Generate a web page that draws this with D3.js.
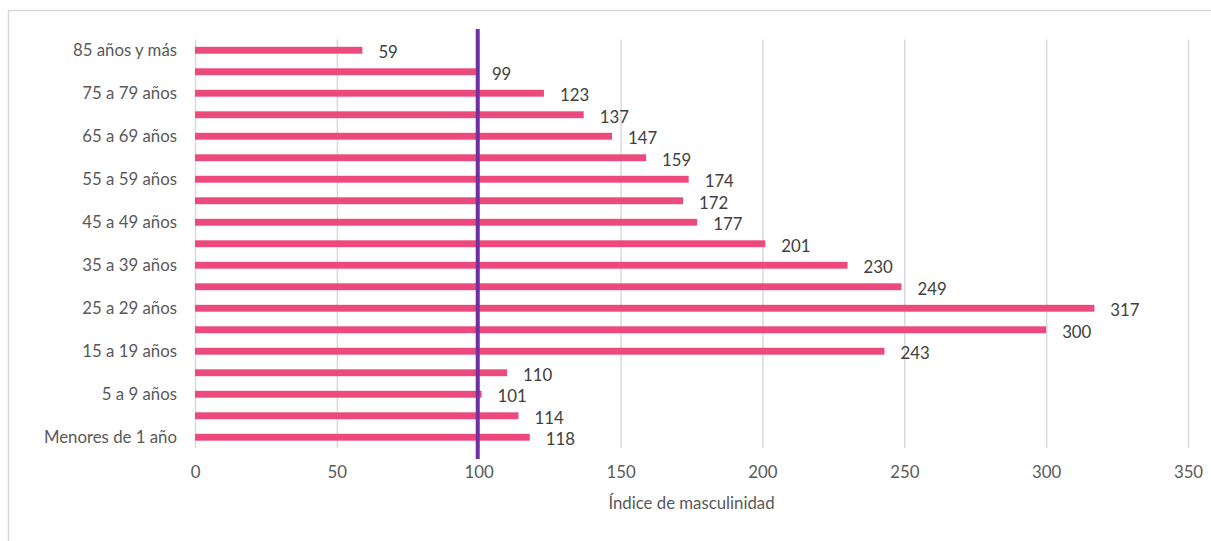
<!DOCTYPE html>
<html>
<head>
<meta charset="utf-8">
<script src="https://cdn.jsdelivr.net/npm/d3@7"></script>
<style>
    body { margin: 0; background: #fff; }
    svg { display: block; font-family: Lato, "Open Sans", sans-serif; }
</style>
</head>
<body>
<svg id="chart" width="1211" height="541"></svg>
<script>
// grupos de edad, de menor a mayor
var grupos = ['Menores de 1 año', '1 a 4 años', '5 a 9 años', '10 a 14 años', '15 a 19 años',
    '20 a 24 años', '25 a 29 años', '30 a 34 años', '35 a 39 años', '40 a 44 años',
    '45 a 49 años', '50 a 54 años', '55 a 59 años', '60 a 64 años', '65 a 69 años',
    '70 a 74 años', '75 a 79 años', '80 a 84 años', '85 años y más']
var indice = [118, 114, 101, 110, 243, 300, 317, 249, 230, 201, 177, 172, 174, 159, 147, 137, 123, 99, 59]
var xTicks = [0, 50, 100, 150, 200, 250, 300, 350]
var referencia = 100
var tituloX = 'Índice de masculinidad'

var svg = d3.select('#chart')
var fs = 16.8

var conf = {
    left: 195,
    right: 1188,
    top: 39.5,
    bottom: 448
}

// marco del gráfico (solo arriba e izquierda visibles)
svg.append('path')
    .attr('d', 'M8.5,541 L8.5,10.5 L1211,10.5')
    .attr('fill', 'none')
    .attr('stroke', '#d9d9d9')
    .attr('stroke-width', 1.5)

var x = d3.scaleLinear().domain([0, 350]).range([conf.left, conf.right])
var y = d3.scaleBand()
    .domain(grupos.slice().reverse())
    .range([conf.top, conf.bottom])
    .paddingInner(0.68)
    .paddingOuter(0.34)

// rejilla vertical + etiquetas del eje
var xAxis = svg.append('g')
    .attr('transform', 'translate(0,' + conf.bottom + ')')
    .call(d3.axisBottom(x).tickValues(xTicks).tickSize(-(conf.bottom - conf.top)).tickPadding(18))
xAxis.select('.domain').remove()
xAxis.selectAll('line').attr('stroke', '#d9d9d9').attr('stroke-width', 1.5)
xAxis.selectAll('text')
    .attr('fill', '#595959')
    .attr('font-size', fs)
    .attr('font-family', 'Lato, "Open Sans", sans-serif')

// etiquetas de categoría (una sí, una no)
svg.append('g').selectAll('text')
    .data(grupos)
    .join('text')
    .filter((d, i) => i % 2 == 0)
    .attr('x', conf.left - 18)
    .attr('y', d => y(d) + y.bandwidth() / 2)
    .attr('dy', '0.35em')
    .attr('text-anchor', 'end')
    .attr('fill', '#595959')
    .attr('font-size', fs)
    .text(d => d)

// barras
svg.append('g').selectAll('rect')
    .data(grupos)
    .join('rect')
    .attr('x', x(0))
    .attr('y', (d, i) => y(d))
    .attr('width', (d, i) => x(indice[i]) - x(0))
    .attr('height', y.bandwidth())
    .attr('fill', '#ec4a7c')

// valores
svg.append('g').selectAll('text')
    .data(grupos)
    .join('text')
    .attr('x', (d, i) => x(indice[i]) + 16)
    .attr('y', d => y(d) + y.bandwidth() / 2 + 2)
    .attr('dy', '0.35em')
    .attr('fill', '#404040')
    .attr('font-size', fs)
    .text((d, i) => indice[i])

// línea de referencia en 100
svg.append('line')
    .attr('x1', x(referencia) - 1).attr('x2', x(referencia) - 1)
    .attr('y1', 29).attr('y2', 459)
    .attr('stroke', '#7030a0')
    .attr('stroke-width', 4)

// título del eje x
svg.append('text')
    .attr('x', (conf.left + conf.right) / 2)
    .attr('y', 503)
    .attr('dy', '0.35em')
    .attr('text-anchor', 'middle')
    .attr('fill', '#595959')
    .attr('font-size', fs)
    .text(tituloX)
</script>
</body>
</html>
